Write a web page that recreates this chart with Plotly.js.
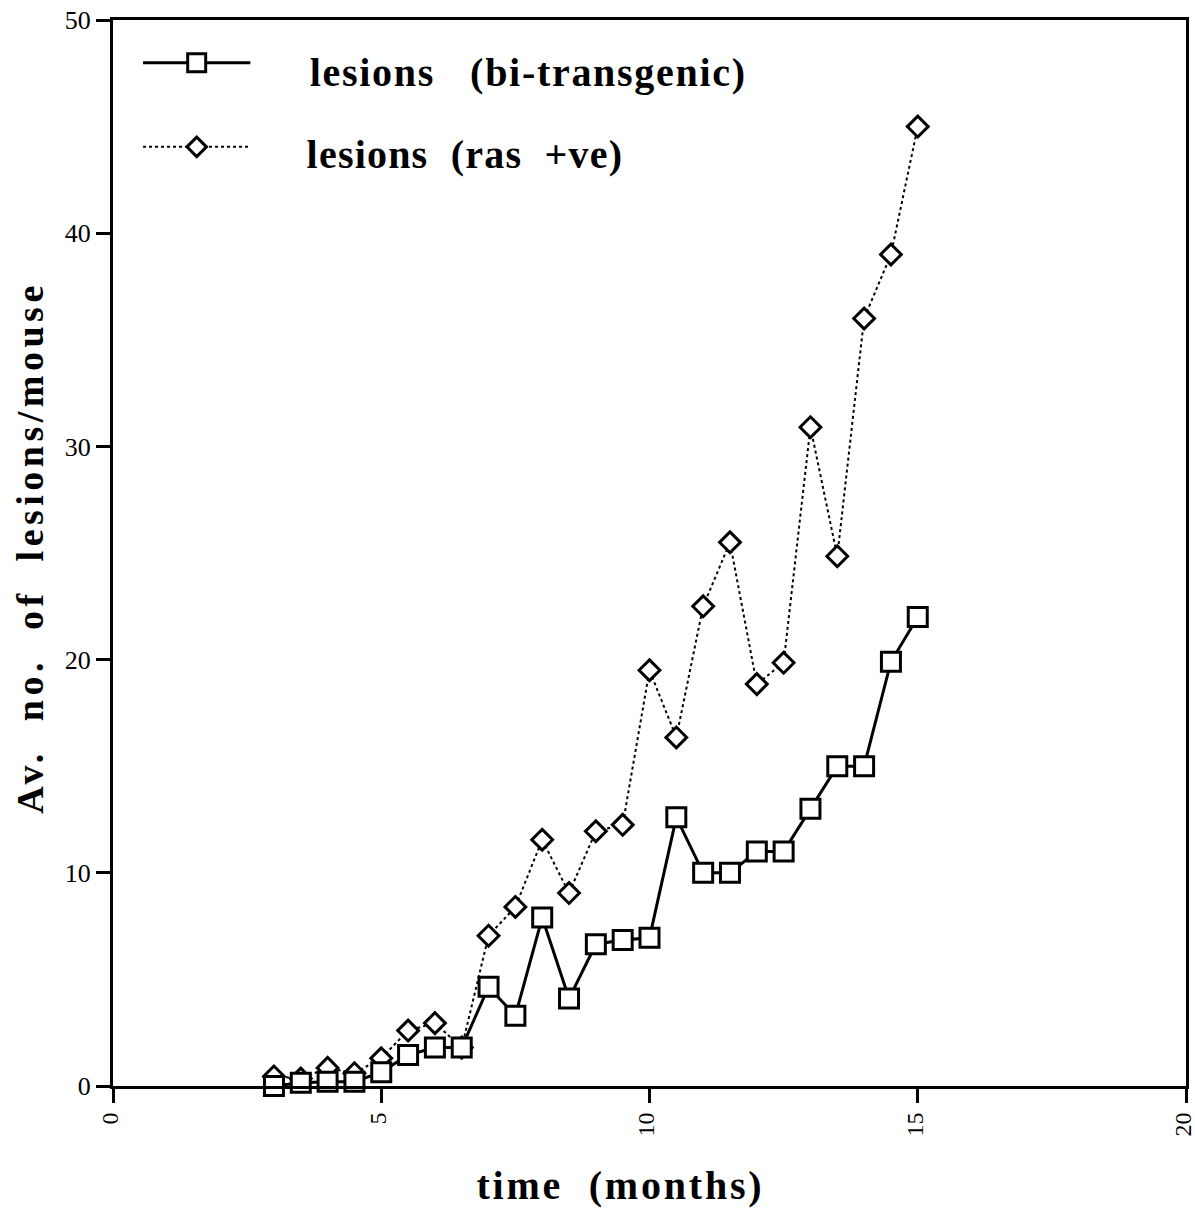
<!DOCTYPE html>
<html>
<head>
<meta charset="utf-8">
<script src="https://cdn.plot.ly/plotly-3.0.1.min.js"></script>
<style>
  html, body { margin: 0; padding: 0; background: #fff; }
  #chart { width: 1195px; height: 1209px; }
  /* tracked bold serif lettering for key and axis captions */
  #chart .annotation[data-index="0"] .annotation-text { letter-spacing: 1.7px; }
  #chart .annotation[data-index="1"] .annotation-text { letter-spacing: 1.2px; }
  #chart .annotation[data-index="2"] .annotation-text { letter-spacing: 4.5px; }
  #chart .annotation[data-index="3"] .annotation-text { letter-spacing: 2.8px; }
</style>
</head>
<body>
<div id="chart"></div>
<script>
// Time points (months)
const months = [3, 3.5, 4, 4.5, 5, 5.5, 6, 6.5, 7, 7.5, 8, 8.5, 9, 9.5, 10,
                10.5, 11, 11.5, 12, 12.5, 13, 13.5, 14, 14.5, 15];

// Average number of lesions per mouse, bi-transgenic animals
const lesionsBiTransgenic = [0, 0.15, 0.2, 0.2, 0.65, 1.45, 1.8, 1.8, 4.65, 3.3,
                             7.9, 4.1, 6.65, 6.85, 6.95, 12.6, 10, 10, 11, 11,
                             13, 15, 15, 19.9, 22];

// Average number of lesions per mouse, ras positive animals
const lesionsRasPositive = [0.45, 0.35, 0.85, 0.6, 1.3, 2.6, 2.95, 1.8, 7.05, 8.4,
                            11.55, 9.05, 11.95, 12.25, 19.5, 16.35, 22.5, 25.5, 18.85, 19.85,
                            30.9, 24.85, 36, 39, 45];

const seriesNames = ['lesions   (bi-transgenic)', 'lesions  (ras  +ve)'];
const xTitle = 'time  (months)';
const yTitle = 'Av.  no.  of  lesions/mouse';
const xTicks = [0, 5, 10, 15, 20];
const yTicks = [0, 10, 20, 30, 40, 50];

const serif = 'Liberation Serif, Times New Roman, serif';

const traces = [
  {
    x: months, y: lesionsRasPositive, type: 'scatter', mode: 'lines+markers',
    name: seriesNames[1], cliponaxis: false,
    line: { color: '#000', width: 2, dash: 'dot' },
    marker: { symbol: 'diamond', size: 16, color: '#fff', line: { color: '#000', width: 3 } }
  },
  {
    x: months, y: lesionsBiTransgenic, type: 'scatter', mode: 'lines+markers',
    name: seriesNames[0], cliponaxis: false,
    line: { color: '#000', width: 3 },
    marker: { symbol: 'square', size: 19, color: '#fff', line: { color: '#000', width: 3 } }
  },
  // Key samples, drawn on a hidden overlay axis pair spanning the plot area
  {
    x: [0.028, 0.128], y: [0.96, 0.96], xaxis: 'x2', yaxis: 'y2',
    type: 'scatter', mode: 'lines', hoverinfo: 'skip',
    line: { color: '#000', width: 3 }
  },
  {
    x: [0.078], y: [0.96], xaxis: 'x2', yaxis: 'y2',
    type: 'scatter', mode: 'markers', hoverinfo: 'skip',
    marker: { symbol: 'square', size: 18, color: '#fff', line: { color: '#000', width: 3 } }
  },
  {
    x: [0.028, 0.128], y: [0.881, 0.881], xaxis: 'x2', yaxis: 'y2',
    type: 'scatter', mode: 'lines', hoverinfo: 'skip',
    line: { color: '#000', width: 2, dash: 'dot' }
  },
  {
    x: [0.078], y: [0.881], xaxis: 'x2', yaxis: 'y2',
    type: 'scatter', mode: 'markers', hoverinfo: 'skip',
    marker: { symbol: 'diamond', size: 15, color: '#fff', line: { color: '#000', width: 3 } }
  }
];

const axisCommon = {
  showgrid: false, zeroline: false,
  showline: true, linecolor: '#000', linewidth: 3, mirror: true,
  ticks: 'outside', ticklen: 14, tickwidth: 3, tickcolor: '#000'
};

const layout = {
  width: 1195, height: 1209,
  margin: { l: 113, r: 9, t: 20, b: 123 },
  paper_bgcolor: '#fff', plot_bgcolor: '#fff',
  showlegend: false,
  font: { family: serif, color: '#000' },
  xaxis: Object.assign({}, axisCommon, {
    range: [0, 20], tickvals: xTicks, ticktext: xTicks.map(String),
    tickangle: -90, ticklabeloverflow: 'allow', ticklabelshift: -3,
    tickfont: { family: serif, size: 24, color: '#000' }
  }),
  yaxis: Object.assign({}, axisCommon, {
    range: [0, 50], tickvals: yTicks, ticktext: yTicks.map(String),
    tickfont: { family: serif, size: 26, color: '#000' }
  }),
  xaxis2: { overlaying: 'x', range: [0, 1], visible: false, fixedrange: true },
  yaxis2: { overlaying: 'y', range: [0, 1], visible: false, fixedrange: true },
  annotations: [
    {
      xref: 'x2', yref: 'y2', x: 0.3872, y: 0.951, xanchor: 'center', yanchor: 'middle',
      text: '<b>' + seriesNames[0] + '</b>', showarrow: false,
      font: { family: serif, size: 40, color: '#000' }
    },
    {
      xref: 'x2', yref: 'y2', x: 0.3281, y: 0.8734, xanchor: 'center', yanchor: 'middle',
      text: '<b>' + seriesNames[1] + '</b>', showarrow: false,
      font: { family: serif, size: 40, color: '#000' }
    },
    {
      xref: 'paper', yref: 'paper', x: -0.0774, y: 0.5056, xanchor: 'center', yanchor: 'middle',
      textangle: -90, text: '<b>' + yTitle + '</b>', showarrow: false,
      font: { family: serif, size: 38, color: '#000' }
    },
    {
      xref: 'paper', yref: 'paper', x: 0.4734, y: -0.0929, xanchor: 'center', yanchor: 'middle',
      text: '<b>' + xTitle + '</b>', showarrow: false,
      font: { family: serif, size: 40, color: '#000' }
    }
  ]
};

Plotly.newPlot('chart', traces, layout, { staticPlot: true, displayModeBar: false });
</script>
</body>
</html>
